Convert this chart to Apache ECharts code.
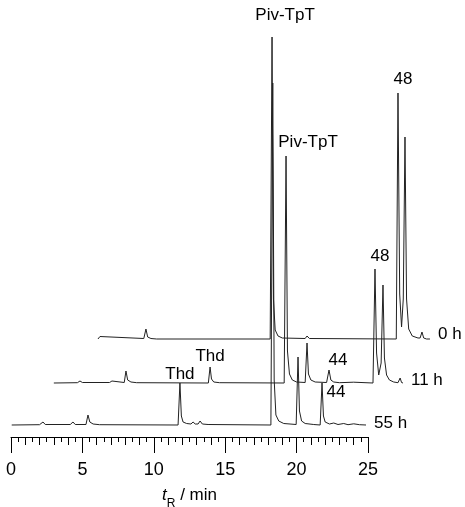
<!DOCTYPE html>
<html>
<head>
<meta charset="utf-8">
<title>HPLC traces</title>
<script src="https://cdn.jsdelivr.net/npm/echarts@6/dist/echarts.min.js"></script>
<style>
  html, body { margin: 0; padding: 0; background: #fff; }
  #chart { width: 465px; height: 507px; }
</style>
</head>
<body>
<div id="chart"></div>
<script>
// Chromatogram traces: [retention time / min, detector signal above the trace's own baseline]
const trace55h = [
  [0.05, 0], [2.0, 0.3], [2.24, 3], [2.4, 0.5], [4.15, 0.5], [4.34, 3], [4.5, 0.5],
  [5.25, 0.5], [5.39, 10], [5.52, 3], [5.75, 1], [6.2, 0.3],
  [11.7, 0], [11.83, 42], [11.93, 9], [12.05, 3], [12.3, 1.5], [12.6, 1], [12.75, 3],
  [12.9, 1], [13.1, 1], [13.24, 4], [13.4, 1], [13.8, 0.5],
  [18.2, 0], [18.33, 342], [18.43, 45], [18.55, 10], [18.75, 4], [19.1, 1.5],
  [19.97, 0.5], [20.1, 68], [20.2, 14], [20.35, 4], [20.6, 1.5], [21.2, 0.5],
  [21.65, 0], [21.78, 42], [21.88, 9], [22.0, 3], [22.3, 1], [22.6, 2], [22.9, 0.5],
  [23.3, 1.5], [23.6, 0.3], [24.0, 1.2], [24.4, 0.3], [24.86, 0]
];
const trace11h = [
  [3.0, 0], [4.65, 0.3], [4.83, 2], [5.0, 0.5], [6.9, 0.5], [7.07, 2], [7.2, 0.5],
  [7.93, 0.5], [8.05, 12], [8.17, 3], [8.4, 1], [8.8, 0.3],
  [13.82, 0], [13.94, 16], [14.04, 4], [14.2, 1], [14.6, 0.3],
  [19.13, 0], [19.26, 227], [19.36, 32], [19.5, 9], [19.7, 3], [20.0, 1],
  [20.6, 0.5], [20.73, 40], [20.83, 9], [21.0, 3], [21.3, 1], [22.1, 0.5],
  [22.17, 0], [22.27, 13], [22.4, 3], [22.6, 1], [23.0, 0.3], [24.0, 0.8],
  [25.35, 0], [25.49, 114], [25.6, 30], [25.75, 8], [25.92, 20], [26.05, 98],
  [26.15, 25], [26.3, 8], [26.5, 3], [26.8, 1], [27.1, 0.3], [27.25, 5], [27.35, 0.5], [27.45, 0]
];
const trace0h = [
  [6.09, 0], [6.15, 0.5], [6.23, 2.5], [6.35, 0.5], [9.3, 0.5], [9.45, 10], [9.57, 2],
  [9.8, 0.5], [10.2, 0],
  [18.15, 0], [18.28, 302], [18.38, 40], [18.5, 9], [18.7, 3], [19.0, 1],
  [20.6, 0.5], [20.73, 3], [20.9, 0.5],
  [26.98, 0], [27.1, 246], [27.22, 45], [27.35, 12], [27.47, 40], [27.59, 202],
  [27.7, 40], [27.85, 10], [28.1, 3], [28.5, 1], [28.65, 1], [28.78, 7], [28.9, 1],
  [29.1, 0], [29.34, 0]
];

// Trace names, in drawing order
const traceNames = ['55 h', '11 h', '0 h'];

// Peak assignments: trace, retention time of the apex, compound label
const peakTrace = ['0 h', '11 h', '0 h', '11 h', '11 h', '55 h', '11 h', '55 h'];
const peakTime = [18.28, 19.26, 27.1, 25.49, 13.94, 11.83, 22.27, 21.78];
const peakName = ['Piv-TpT', 'Piv-TpT', '48', '48', 'Thd', 'Thd', '44', '44'];

// Time axis
const axisMin = 0;
const axisMax = 25;
const axisStep = 5;

// ---- layout and styling ----
const FONT = '"Liberation Sans", Arial, Helvetica, sans-serif';
const PX_PER_MIN = 14.28;
const LEFT = 11;
const PLOT_H = 437;
const VIEW_MAX_T = 31.5;
const baselineLift = { '55 h': 12, '11 h': 54, '0 h': 98 };     // vertical stacking of the traces
const endLabelShift = { '55 h': -2, '11 h': -3, '0 h': -5 };
const peakLabelOffset = [[13, -22], [22, -14], [5, -14], [5, -13], [0, -11], [0, -9], [9, -10], [14, 9]];

const traces = { '55 h': trace55h, '11 h': trace11h, '0 h': trace0h };

function apexValue(name, t) {
  const pt = traces[name].find(p => Math.abs(p[0] - t) < 1e-9);
  return pt ? pt[1] : 0;
}

const series = traceNames.map(name => {
  const lift = baselineLift[name];
  const marks = [];
  peakTrace.forEach((tr, i) => {
    if (tr !== name) return;
    marks.push({
      name: peakName[i],
      coord: [peakTime[i], apexValue(name, peakTime[i]) + lift],
      label: { offset: peakLabelOffset[i] }
    });
  });
  return {
    type: 'line',
    name: name,
    xAxisIndex: 0,
    yAxisIndex: 0,
    data: traces[name].map(p => [p[0], p[1] + lift]),
    showSymbol: false,
    symbol: 'none',
    smooth: false,
    silent: true,
    lineStyle: { color: '#222', width: 1 },
    endLabel: {
      show: true,
      formatter: name,
      distance: 8,
      offset: [0, endLabelShift[name]],
      color: '#000',
      fontSize: 17,
      fontFamily: FONT
    },
    markPoint: {
      symbol: 'circle',
      symbolSize: 0,
      silent: true,
      label: {
        show: true,
        position: 'inside',
        formatter: '{b}',
        color: '#000',
        fontSize: 17,
        fontFamily: FONT
      },
      data: marks
    }
  };
});

const gridBase = { top: 0, height: PLOT_H, left: LEFT, outerBoundsMode: 'none', containLabel: false };

const chart = echarts.init(document.getElementById('chart'), null, { renderer: 'canvas' });
chart.setOption({
  animation: false,
  backgroundColor: '#fff',
  grid: [
    Object.assign({}, gridBase, { width: PX_PER_MIN * VIEW_MAX_T }),
    Object.assign({}, gridBase, { width: PX_PER_MIN * axisMax }),
    Object.assign({}, gridBase, { width: PX_PER_MIN * axisMax })
  ],
  xAxis: [
    { gridIndex: 0, type: 'value', min: 0, max: VIEW_MAX_T, show: false },
    {
      gridIndex: 1, type: 'value', min: axisMin, max: axisMax, interval: axisStep,
      position: 'bottom',
      axisLine: { show: true, lineStyle: { color: '#000', width: 1 } },
      axisTick: { show: true, length: 16, lineStyle: { color: '#000', width: 1 } },
      minorTick: { show: true, splitNumber: 10, length: 5, lineStyle: { color: '#000', width: 1 } },
      splitLine: { show: false },
      minorSplitLine: { show: false },
      axisLabel: { margin: 24, fontSize: 18, color: '#000', fontFamily: FONT },
      name: '{it|t}{sub|R} / min',
      nameLocation: 'middle',
      nameGap: 50,
      nameTextStyle: {
        fontSize: 17, color: '#000', fontFamily: FONT,
        rich: {
          it: { fontStyle: 'italic', fontSize: 17, fontFamily: FONT, color: '#000' },
          sub: { fontSize: 12, fontFamily: FONT, color: '#000', verticalAlign: 'bottom', padding: [0, 0, -6, 0] }
        }
      }
    },
    {
      gridIndex: 2, type: 'value', min: axisMin, max: axisMax, interval: 1,
      position: 'bottom',
      axisLine: { show: false },
      axisTick: { show: true, length: 8, lineStyle: { color: '#000', width: 1 } },
      axisLabel: { show: false },
      splitLine: { show: false }
    }
  ],
  yAxis: [0, 1, 2].map(i => ({ gridIndex: i, type: 'value', min: 0, max: PLOT_H, show: false })),
  series: series
});
</script>
</body>
</html>
